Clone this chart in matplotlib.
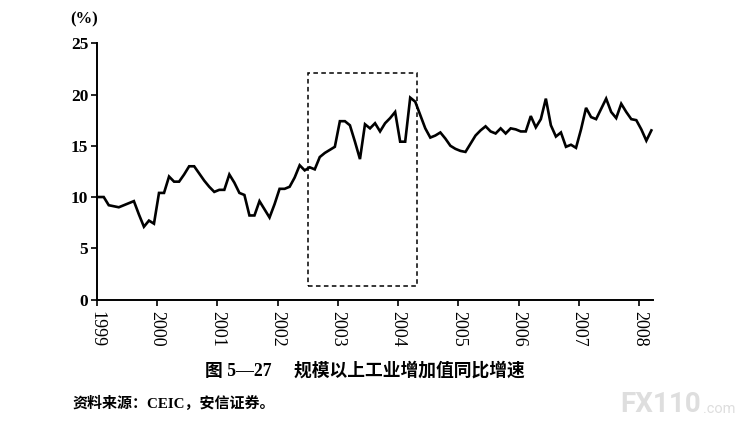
import numpy as np
import matplotlib
matplotlib.use("Agg")
import matplotlib.pyplot as plt
from matplotlib.patches import Rectangle

# ---- data (monthly, Jan 1999 - Mar 2008), % yoy ----
values = [
    10.0, 10.0, 9.2, 9.1, 9.0, 9.2, 9.4, 9.6, 8.3, 7.1, 7.7, 7.4,          # 1999
    10.4, 10.4, 12.0, 11.5, 11.5, 12.2, 13.0, 13.0, 12.3, 11.6, 11.0, 10.5,  # 2000
    10.7, 10.7, 12.2, 11.4, 10.4, 10.2, 8.2, 8.2, 9.6, 8.8, 8.0, 9.3,        # 2001
    10.8, 10.8, 11.0, 11.9, 13.1, 12.6, 12.9, 12.7, 13.9, 14.3, 14.6, 14.9,  # 2002
    17.4, 17.4, 17.0, 15.4, 13.7, 17.1, 16.7, 17.2, 16.4, 17.2, 17.7, 18.3,  # 2003
    15.4, 15.4, 19.7, 19.3, 18.0, 16.7, 15.8, 16.0, 16.3, 15.7, 15.0, 14.7,  # 2004
    14.5, 14.4, 15.2, 16.0, 16.5, 16.9, 16.4, 16.2, 16.7, 16.2, 16.7, 16.6,  # 2005
    16.4, 16.4, 17.9, 16.8, 17.6, 19.6, 17.0, 15.9, 16.3, 14.9, 15.1, 14.8,  # 2006
    16.6, 18.7, 17.8, 17.6, 18.6, 19.6, 18.3, 17.7, 19.1, 18.3, 17.6, 17.5,  # 2007
    16.6, 15.5, 16.5,                                                        # 2008
]
start_year = 1999
years = [1999, 2000, 2001, 2002, 2003, 2004, 2005, 2006, 2007, 2008]
year_labels = [str(y) for y in years]
y_ticks = [0, 5, 10, 15, 20, 25]
highlight_x = (2002.51, 2004.31)
highlight_y = (1.36, 22.1)

title = "图 5—27     规模以上工业增加值同比增速"
source = "资料来源：CEIC，安信证券。"

# ---- figure ----
W, H = 739, 424
fig = plt.figure(figsize=(W / 100, H / 100), dpi=100)
ax = fig.add_axes([96.7 / W, 1 - 299.5 / H, (652.7 - 96.7) / W, (299.5 - 43.3) / H])

x = start_year + (np.arange(len(values)) + 0.4) / 12.0
ax.plot(x, values, color="black", lw=1.9, solid_joinstyle="miter", clip_on=False)

ax.add_patch(Rectangle((highlight_x[0], highlight_y[0]),
                       highlight_x[1] - highlight_x[0],
                       highlight_y[1] - highlight_y[0],
                       fill=False, ec="black", lw=1.1, ls=(0, (3.0, 2.2))))

ax.set_xlim(1999, 1999 + (652.7 - 96.7) / 60.29)
ax.set_ylim(0, 25)
for s in ["top", "right"]:
    ax.spines[s].set_visible(False)
for s in ["left", "bottom"]:
    ax.spines[s].set_linewidth(1.4)

serif = ["Liberation Serif", "DejaVu Serif"]
ax.set_yticks(y_ticks)
ax.set_yticklabels([str(v) for v in y_ticks], fontfamily=serif, fontsize=12.5,
                   fontweight="bold")
ax.set_xticks(years)
ax.set_xticklabels(year_labels, rotation=-90, fontfamily=serif, fontsize=13,
                   va="top", ha="center")
ax.tick_params(axis="y", direction="out", length=4, width=1.2, pad=2)
ax.tick_params(axis="x", direction="out", length=4, width=1.2, pad=4)

fig.text(84 / W, 1 - 19 / H, "(%)", fontfamily=serif, fontsize=12,
         fontweight="bold", ha="center", va="center")

mixed = ["Liberation Serif", "Noto Sans CJK SC", "DejaVu Sans"]
fig.text(365 / W, 1 - 371 / H, title, family=mixed, fontsize=12.8,
         fontweight="bold", ha="center", va="center")
fig.text(72 / W, 1 - 403 / H, source, family=mixed, fontsize=10.8,
         fontweight="bold", ha="left", va="center")

# watermark
fig.text(620 / W, 1 - 405 / H, "FX110", family=["Roboto", "DejaVu Sans"],
         fontsize=20, fontweight="bold", color="#dedede", ha="left", va="center")
fig.text(703 / W, 1 - 409 / H, ".com", family=["Roboto", "DejaVu Sans"],
         fontsize=10.5, color="#dedede", ha="left", va="center")

fig.savefig("out.png", dpi=100)
